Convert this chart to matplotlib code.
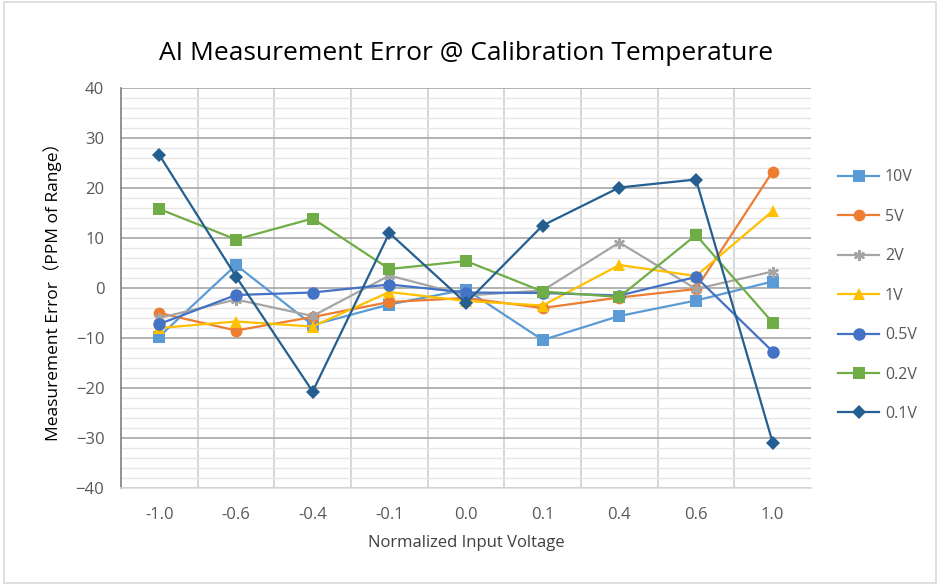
import numpy as np
import matplotlib.pyplot as plt
from matplotlib.patches import Rectangle
from matplotlib.ticker import MultipleLocator

plt.rcParams["font.family"] = ["Open Sans", "Noto Sans CJK SC", "DejaVu Sans"]

# -----------------------------
# Data
# -----------------------------
categories = ["-1.0", "-0.6", "-0.4", "-0.1", "0.0", "0.1", "0.4", "0.6", "1.0"]

v10 = [-9.7, 4.6, -7.4, -3.3, -0.3, -10.4, -5.6, -2.5, 1.3]
v5 = [-5.0, -8.5, -5.8, -2.8, -2.0, -4.0, -1.9, -0.2, 23.3]
v2 = [-6.0, -2.3, -5.6, 2.5, -1.5, -0.5, 9.1, -0.2, 3.3]
v1 = [-8.0, -6.7, -7.7, -0.8, -2.6, -3.5, 4.6, 2.4, 15.4]
v05 = [-7.2, -1.4, -0.9, 0.7, -0.9, -1.0, -1.5, 2.2, -12.7]
v02 = [15.8, 9.7, 13.9, 3.8, 5.4, -0.7, -1.8, 10.6, -6.9]
v01 = [26.6, 2.3, -20.7, 11.0, -3.0, 12.5, 20.1, 21.7, -30.9]

series_names = ["10V", "5V", "2V", "1V", "0.5V", "0.2V", "0.1V"]
series_vals = [v10, v5, v2, v1, v05, v02, v01]
series_colors = ["#5B9BD5", "#ED7D31", "#A5A5A5", "#FFC000", "#4472C4", "#70AD47", "#255E91"]
series_markers = ["s", "o", (6, 2, 0), "^", "o", "s", "D"]
marker_sizes = [8, 8.5, 8, 8, 9, 8.5, 7]

# -----------------------------
# Figure
# -----------------------------
fig = plt.figure(figsize=(9.4, 5.87), dpi=100)
ax = fig.add_axes([121 / 940, 1 - 488 / 587, (811 - 121) / 940, (488 - 88) / 587])

# chart border
fig.add_artist(Rectangle((0.004, 0.006), 0.992, 0.99, transform=fig.transFigure,
                         fill=False, edgecolor="#D9D9D9", linewidth=1.2))

x = np.arange(len(categories))
for name, vals, col, mk, ms in zip(series_names, series_vals, series_colors,
                                    series_markers, marker_sizes):
    mew = 1.6 if isinstance(mk, tuple) else 0
    ax.plot(x, vals, color=col, linewidth=1.6, marker=mk, markersize=ms,
            markerfacecolor=col, markeredgecolor=col, markeredgewidth=mew,
            label=name, zorder=3)

ax.set_xlim(-0.5, len(categories) - 0.5)
ax.set_ylim(-40, 40)
ax.set_xticks(x)
ax.set_xticklabels(categories)
ax.yaxis.set_major_locator(MultipleLocator(10))
ax.yaxis.set_minor_locator(MultipleLocator(2))
ax.set_xticks(np.arange(-0.5, len(categories) - 0.5, 1.0)[1:], minor=True)

ax.grid(True, which="major", axis="y", color="#A6A6A6", linewidth=1.2, zorder=0)
ax.grid(True, which="minor", axis="y", color="#E6E6E6", linewidth=1.0, zorder=0)
ax.grid(True, which="minor", axis="x", color="#D0D0D0", linewidth=1.2, zorder=0)
ax.set_axisbelow(True)

for side in ["top", "right"]:
    ax.spines[side].set_visible(False)
ax.spines["left"].set_color("#7F7F7F")
ax.spines["left"].set_linewidth(1.2)
ax.spines["bottom"].set_color("#D9D9D9")
ax.spines["bottom"].set_linewidth(1.2)

ax.tick_params(axis="both", which="both", length=0, labelsize=12, colors="#595959")
ax.tick_params(axis="x", pad=14)
ax.tick_params(axis="y", pad=12)

ax.set_title("AI Measurement Error @ Calibration Temperature", fontsize=19,
             color="#000000", pad=20)
ax.set_xlabel("Normalized Input Voltage", fontsize=12, color="#404040", labelpad=8)
ax.set_ylabel("Measurement Error（PPM of Range）", fontsize=12.5, color="#000000",
              labelpad=10)

ax.legend(loc="upper left", bbox_to_anchor=(1.018, 0.833), frameon=False,
          fontsize=11.5, labelspacing=1.47, handlelength=2.6, handletextpad=0.35,
          labelcolor="#595959")

fig.savefig("out.png", dpi=100)
